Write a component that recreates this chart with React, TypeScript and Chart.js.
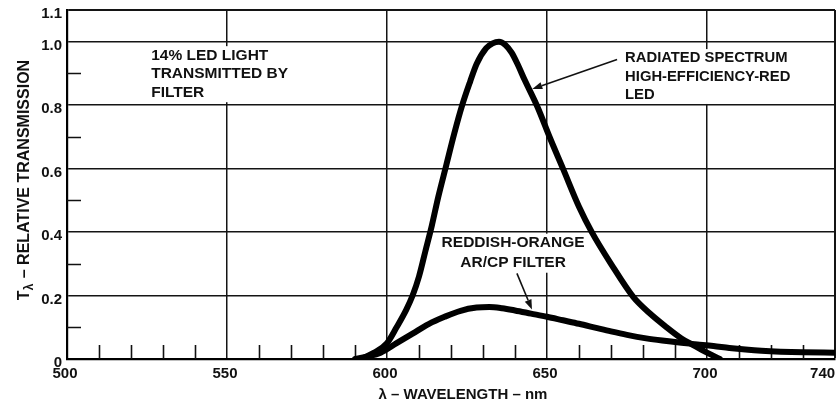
import React, { useEffect, useRef } from 'react';
import { Chart, registerables } from 'chart.js';

Chart.register(...registerables);

// Radiated spectrum of the high-efficiency-red LED (relative, peak = 1.0)
const ledWavelengths = [592, 596, 600, 603, 606, 608, 610, 612, 614, 616, 618.5, 621, 623.5, 626, 628, 631, 633, 635, 637, 639, 641, 643, 647, 651, 655, 660, 664, 670, 677, 682, 687, 692, 696, 700, 704];
const ledValues = [0, 0.02, 0.05, 0.1, 0.155, 0.2, 0.26, 0.34, 0.42, 0.51, 0.61, 0.71, 0.8, 0.875, 0.93, 0.98, 0.995, 1.0, 0.99, 0.965, 0.925, 0.88, 0.795, 0.695, 0.6, 0.48, 0.4, 0.3, 0.195, 0.145, 0.103, 0.065, 0.042, 0.02, 0];

// LED light passed by the reddish-orange AR/CP filter
const filterWavelengths = [590, 594, 598, 603, 608, 613, 618, 623, 628, 632, 636, 640, 645, 650, 655, 660, 665, 670, 675, 681, 686, 692, 697, 702, 707, 712, 717, 723, 730, 740];
const filterValues = [0, 0.008, 0.02, 0.05, 0.08, 0.11, 0.133, 0.152, 0.162, 0.164, 0.16, 0.153, 0.143, 0.133, 0.122, 0.111, 0.099, 0.087, 0.076, 0.065, 0.058, 0.051, 0.046, 0.041, 0.035, 0.03, 0.026, 0.023, 0.021, 0.02];

const xTickValues = [500, 550, 600, 650, 700, 740];
const yTickValues = [0, 0.2, 0.4, 0.6, 0.8, 1.0, 1.1];
const xMinorTicks = [510, 520, 530, 540, 560, 570, 580, 590, 610, 620, 630, 640, 660, 670, 680, 690, 710, 720, 730];
const yMinorTicks = [0.1, 0.3, 0.5, 0.7, 0.9];

const FONT = "Arial, 'Liberation Sans', Helvetica, sans-serif";
const INK = '#111';

type Note = { lines: string[]; x: number; y: number; align: 'left' | 'center'; size: number; gap: number };

// Callout texts, anchored in data coordinates (x in nm, y in relative transmission)
const notes: Note[] = [
  { lines: ['14% LED LIGHT', 'TRANSMITTED BY', 'FILTER'], x: 526.3, y: 0.956, align: 'left', size: 15.5, gap: 18.5 },
  { lines: ['RADIATED SPECTRUM', 'HIGH-EFFICIENCY-RED', 'LED'], x: 674.4, y: 0.948, align: 'left', size: 14.8, gap: 18.3 },
  { lines: ['REDDISH-ORANGE', 'AR/CP FILTER'], x: 639.4, y: 0.365, align: 'center', size: 15.5, gap: 20 },
];

// Pointer arrows: [fromX, fromY, toX, toY] in data coordinates
const arrows: number[][] = [
  [671.9, 0.944, 645.4, 0.851],
  [640.6, 0.27, 645.3, 0.156],
];

const decor = {
  id: 'decor',
  beforeDatasetsDraw(chart: any) {
    const { ctx, chartArea, scales } = chart;
    const xs = scales.x;
    const ys = scales.y;
    ctx.save();
    // short inward tick marks
    ctx.strokeStyle = INK;
    ctx.lineWidth = 1.6;
    ctx.beginPath();
    for (const v of xMinorTicks) {
      const px = Math.round(xs.getPixelForValue(v)) + 0.5;
      ctx.moveTo(px, chartArea.bottom);
      ctx.lineTo(px, chartArea.bottom - 14);
    }
    for (const v of yMinorTicks) {
      const py = Math.round(ys.getPixelForValue(v)) + 0.5;
      ctx.moveTo(chartArea.left, py);
      ctx.lineTo(chartArea.left + 14, py);
    }
    ctx.stroke();

    // callout texts on white backing
    for (const n of notes) {
      ctx.font = `bold ${n.size}px ${FONT}`;
      const ax = xs.getPixelForValue(n.x);
      const ay = ys.getPixelForValue(n.y);
      const widths = n.lines.map((l) => ctx.measureText(l).width);
      const w = Math.max(...widths);
      const left = n.align === 'left' ? ax : ax - w / 2;
      const top = ay - n.size * 0.55;
      const h = n.gap * (n.lines.length - 1) + n.size * 1.1;
      ctx.fillStyle = '#fff';
      ctx.fillRect(left - 3, top - 1, w + 6, h + 2);
      ctx.fillStyle = INK;
      ctx.textBaseline = 'middle';
      ctx.textAlign = n.align;
      n.lines.forEach((l, i) => ctx.fillText(l, ax, ay + i * n.gap));
    }
    ctx.restore();
  },
  afterDatasetsDraw(chart: any) {
    const { ctx, scales } = chart;
    const xs = scales.x;
    const ys = scales.y;
    ctx.save();
    ctx.strokeStyle = INK;
    ctx.fillStyle = INK;
    ctx.lineWidth = 1.6;
    for (const [fx, fy, tx, ty] of arrows) {
      const x1 = xs.getPixelForValue(fx);
      const y1 = ys.getPixelForValue(fy);
      const x2 = xs.getPixelForValue(tx);
      const y2 = ys.getPixelForValue(ty);
      const ang = Math.atan2(y2 - y1, x2 - x1);
      const len = 10;
      const half = 3.6;
      const bx = x2 - len * Math.cos(ang);
      const by = y2 - len * Math.sin(ang);
      ctx.beginPath();
      ctx.moveTo(x1, y1);
      ctx.lineTo(bx, by);
      ctx.stroke();
      ctx.beginPath();
      ctx.moveTo(x2, y2);
      ctx.lineTo(bx + half * Math.sin(ang), by - half * Math.cos(ang));
      ctx.lineTo(bx - half * Math.sin(ang), by + half * Math.cos(ang));
      ctx.closePath();
      ctx.fill();
    }
    ctx.restore();
  },
  afterDraw(chart: any) {
    const { ctx, chartArea } = chart;
    ctx.save();
    ctx.fillStyle = INK;
    ctx.textBaseline = 'middle';

    // x-axis title
    ctx.font = `bold 15px ${FONT}`;
    ctx.textAlign = 'center';
    ctx.fillText('λ – WAVELENGTH – nm', chartArea.left + 396, 395);

    // y-axis title with subscript lambda
    const main = `bold 16px ${FONT}`;
    const sub = `bold 12px ${FONT}`;
    const rest = ' – RELATIVE TRANSMISSION';
    ctx.font = main;
    const wT = ctx.measureText('T').width;
    const wRest = ctx.measureText(rest).width;
    ctx.font = sub;
    const wL = ctx.measureText('λ').width + 1;
    const total = wT + wL + wRest;
    ctx.translate(25, 180);
    ctx.rotate(-Math.PI / 2);
    ctx.textAlign = 'left';
    let cx = -total / 2;
    ctx.font = main;
    ctx.fillText('T', cx, 0);
    cx += wT;
    ctx.font = sub;
    ctx.fillText('λ', cx, 5);
    cx += wL;
    ctx.font = main;
    ctx.fillText(rest, cx, 0);
    ctx.restore();
  },
};

export default function App() {
  const ref = useRef<HTMLCanvasElement>(null);

  useEffect(() => {
    document.body.style.margin = '0';
    const canvas = ref.current;
    if (!canvas) return;
    const tickFont = { family: FONT, size: 15, weight: 'bold' as const };
    const chart = new Chart(canvas, {
      type: 'line',
      data: {
        datasets: [
          {
            label: 'Radiated spectrum',
            data: ledWavelengths.map((x, i) => ({ x, y: ledValues[i] })),
            borderColor: '#000',
            borderWidth: 6,
            pointRadius: 0,
            fill: false,
            cubicInterpolationMode: 'monotone',
            borderCapStyle: 'round',
            borderJoinStyle: 'round',
          },
          {
            label: 'Filter transmission',
            data: filterWavelengths.map((x, i) => ({ x, y: filterValues[i] })),
            borderColor: '#000',
            borderWidth: 6,
            pointRadius: 0,
            fill: false,
            cubicInterpolationMode: 'monotone',
            borderCapStyle: 'round',
            borderJoinStyle: 'round',
          },
        ],
      },
      options: {
        animation: false,
        responsive: false,
        devicePixelRatio: 1,
        events: [],
        layout: { padding: { left: 0, right: 3, top: 10, bottom: 0 } },
        plugins: {
          legend: { display: false },
          tooltip: { enabled: false },
          title: { display: false },
        },
        scales: {
          x: {
            type: 'linear',
            min: 500,
            max: 740,
            afterBuildTicks: (s: any) => {
              s.ticks = xTickValues.map((v) => ({ value: v }));
            },
            afterFit: (s: any) => {
              s.height = 47;
              s.paddingLeft = 0;
              s.paddingRight = 0;
            },
            ticks: {
              autoSkip: false,
              maxRotation: 0,
              minRotation: 0,
              padding: 6,
              labelOffset: -2,
              color: INK,
              font: tickFont,
              callback: (v: any) => (v === 740 ? '740     ' : String(v)),
            },
            grid: {
              color: '#141414',
              lineWidth: (c: any) => (c.tick && c.tick.value === 740 ? 2 : 1.5),
              drawTicks: false,
            },
            border: { display: true, color: '#000', width: 2.2 },
          },
          y: {
            type: 'linear',
            min: 0,
            max: 1.1,
            afterBuildTicks: (s: any) => {
              s.ticks = yTickValues.map((v) => ({ value: v }));
            },
            afterFit: (s: any) => {
              s.width = 67;
              s.paddingTop = 0;
              s.paddingBottom = 0;
            },
            ticks: {
              padding: 5,
              labelOffset: 4,
              color: INK,
              font: tickFont,
              callback: (v: any) => (v === 0 ? '0' : Number(v).toFixed(1)),
            },
            grid: {
              color: '#141414',
              lineWidth: (c: any) => (c.tick && Math.abs(c.tick.value - 1.1) < 1e-6 ? 2 : 1.5),
              drawTicks: false,
            },
            border: { display: true, color: '#000', width: 2.2 },
          },
        },
      },
      plugins: [decor],
    } as any);
    return () => chart.destroy();
  }, []);

  return (
    <div style={{ width: 838, height: 406 }}>
      <canvas ref={ref} width={838} height={406} style={{ display: 'block' }} />
    </div>
  );
}
